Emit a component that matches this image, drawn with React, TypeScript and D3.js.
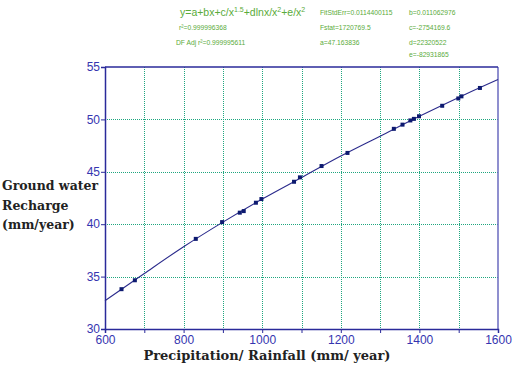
import { useEffect, useRef } from "react";
import * as d3 from "d3";

// observed points (precipitation mm/year, recharge mm/year)
const rainfall = [642, 676, 831, 898, 943, 953, 984, 998, 1081, 1096, 1151, 1217, 1335, 1357, 1377, 1386, 1399, 1458, 1499, 1507, 1554];
const recharge = [33.8, 34.65, 38.6, 40.2, 41.1, 41.25, 42.05, 42.4, 44.05, 44.47, 45.55, 46.8, 49.1, 49.5, 49.9, 50.05, 50.3, 51.3, 52.0, 52.2, 53.0];

// fitted curve
const curveX = [600, 700, 800, 900, 1000, 1100, 1200, 1300, 1400, 1500, 1600];
const curveY = [32.7, 35.3, 37.85, 40.2, 42.4, 44.45, 46.5, 48.4, 50.3, 52.1, 53.8];

const xTicks = [600, 800, 1000, 1200, 1400, 1600];
const xGrid = [700, 800, 900, 1000, 1100, 1200, 1300, 1400, 1500];
const yTicks = [30, 35, 40, 45, 50, 55];

const statsCol1 = ["r\u00b2=0.999996368", "DF Adj r\u00b2=0.999995611"];
const statsCol2 = ["FitStdErr=0.0114400115", "Fstat=1720769.5", "a=47.163836"];
const statsCol3 = ["b=0.011062976", "c=-2754169.6", "d=22320522", "e=-82931865"];

const App = () => {
  const svgRef = useRef<SVGSVGElement>(null);

  useEffect(() => {
    const margin = { top: 67, left: 105 };
    const width = 393;
    const height = 262;

    d3.select(svgRef.current).selectAll("*").remove();
    const root = d3.select(svgRef.current).attr("width", 517).attr("height", 371);

    const x = d3.scaleLinear().domain([600, 1600]).range([0, width]);
    const y = d3.scaleLinear().domain([30, 55]).range([height, 0]);

    const svg = root.append("g").attr("transform", `translate(${margin.left},${margin.top})`);

    // grid, dotted teal
    const gridColor = "#1fa67f";
    svg
      .selectAll(".vgrid")
      .data(xGrid)
      .enter()
      .append("line")
      .attr("x1", (d) => Math.round(x(d)) + 0.5)
      .attr("x2", (d) => Math.round(x(d)) + 0.5)
      .attr("y1", 0)
      .attr("y2", height)
      .attr("stroke", gridColor)
      .attr("stroke-dasharray", "1,1")
      .attr("shape-rendering", "crispEdges");
    svg
      .selectAll(".hgrid")
      .data(yTicks.slice(1, -1))
      .enter()
      .append("line")
      .attr("x1", 0)
      .attr("x2", width)
      .attr("y1", (d) => Math.round(y(d)) + 0.5)
      .attr("y2", (d) => Math.round(y(d)) + 0.5)
      .attr("stroke", gridColor)
      .attr("stroke-dasharray", "1,1")
      .attr("shape-rendering", "crispEdges");

    // frame
    svg.append("line").attr("x1", width).attr("x2", width).attr("y1", 0).attr("y2", height)
      .attr("stroke", "#6a6abf").attr("stroke-width", 1.5);
    svg.append("line").attr("x1", 0).attr("x2", width).attr("y1", 0).attr("y2", 0)
      .attr("stroke", "#2a2a9a").attr("stroke-width", 1.5);

    // x axis
    const xAxis = svg
      .append("g")
      .attr("transform", `translate(0,${height})`)
      .call(d3.axisBottom(x).tickValues(d3.range(600, 1601, 100)).tickSize(4).tickFormat((d) => (xTicks.includes(+d) ? String(d) : "")));
    xAxis.select(".domain").attr("stroke", "#2a2a9a").attr("stroke-width", 1.5);
    xAxis.selectAll("line").attr("stroke", "#2a2a9a");
    xAxis.selectAll("text").attr("fill", "#3535b0").attr("font-family", "Liberation Sans, Arial, sans-serif").attr("font-size", 12).attr("y", 6);

    // y axis
    const yAxis = svg.append("g").call(d3.axisLeft(y).tickValues(yTicks).tickSize(4));
    yAxis.select(".domain").attr("stroke", "#2a2a9a").attr("stroke-width", 1.5);
    yAxis.selectAll("line").attr("stroke", "#2a2a9a");
    yAxis.selectAll("text").attr("fill", "#3535b0").attr("font-family", "Liberation Sans, Arial, sans-serif").attr("font-size", 12).attr("x", -5).attr("dy", "0.3em");

    // fitted curve
    const line = d3
      .line<number>()
      .x((d) => x(d))
      .y((_, i) => y(curveY[i]))
      .curve(d3.curveMonotoneX);
    svg.append("path").datum(curveX).attr("d", line).attr("fill", "none").attr("stroke", "#2b2b8c").attr("stroke-width", 1.1);

    // points
    svg
      .selectAll(".pt")
      .data(rainfall)
      .enter()
      .append("rect")
      .attr("x", (d) => x(d) - 2)
      .attr("y", (_, i) => y(recharge[i]) - 2)
      .attr("width", 4)
      .attr("height", 4)
      .attr("fill", "#0d1a70");

    // axis titles
    const labelFont = "DejaVu Serif, serif";
    root.append("text").attr("x", 267).attr("y", 360).attr("text-anchor", "middle")
      .attr("font-family", labelFont).attr("font-weight", "bold").attr("font-size", 13).attr("fill", "#222")
      .text("Precipitation/ Rainfall (mm/ year)");
    ["Ground water", "Recharge", "(mm/year)"].forEach((t, i) => {
      root.append("text").attr("x", 2).attr("y", 190 + i * 19.5)
        .attr("font-family", labelFont).attr("font-weight", "bold").attr("font-size", 12.5).attr("fill", "#222")
        .text(t);
    });

    // equation and fit stats
    const green = "#5aab3a";
    const eq = root.append("text").attr("x", 180).attr("y", 16).attr("font-family", "Liberation Sans, Arial, sans-serif").attr("font-size", 10.5).attr("fill", green);
    eq.append("tspan").text("y=a+bx+c/x");
    eq.append("tspan").attr("font-size", 7).attr("dy", -4).text("1.5");
    eq.append("tspan").attr("dy", 4).text("+dlnx/x");
    eq.append("tspan").attr("font-size", 7).attr("dy", -4).text("2");
    eq.append("tspan").attr("dy", 4).text("+e/x");
    eq.append("tspan").attr("font-size", 7).attr("dy", -4).text("2");

    const small = (txt: string, xp: number, yp: number) => {
      const t = root.append("text").attr("x", xp).attr("y", yp).attr("font-family", "Liberation Sans, Arial, sans-serif")
        .attr("font-size", 8).attr("fill", green).text(txt);
      const node = t.node() as SVGTextElement;
      const w = node.getComputedTextLength();
      t.attr("textLength", w * 0.84).attr("lengthAdjust", "spacingAndGlyphs");
    };
    const rows = [15, 30, 45, 57];
    statsCol1.forEach((t, i) => small(t, i === 0 ? 179 : 176, rows[i + 1]));
    statsCol2.forEach((t, i) => small(t, 320, rows[i]));
    statsCol3.forEach((t, i) => small(t, 409, rows[i]));
  }, []);

  return <svg ref={svgRef} style={{ position: "absolute", left: 0, top: 0 }}></svg>;
};

export default App;
